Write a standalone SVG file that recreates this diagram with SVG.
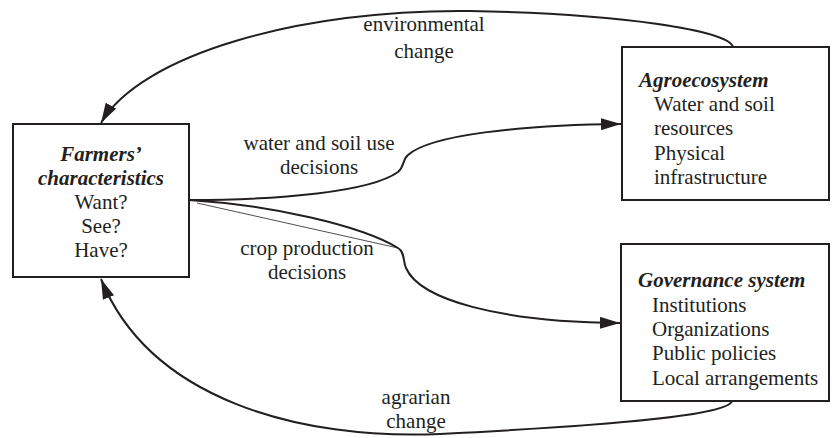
<svg xmlns="http://www.w3.org/2000/svg" width="832" height="438" viewBox="0 0 832 438">
<style>
text{font-size:21px;fill:#231f20}
.t{font-weight:bold;font-style:italic}
.box{fill:#fff;stroke:#231f20;stroke-width:2}
.c{fill:none;stroke:#231f20;stroke-width:2}
.lbl{text-anchor:middle}
</style>
<defs>
<marker id="ah" viewBox="0 0 20 12" refX="20" refY="6" markerWidth="20" markerHeight="12" markerUnits="userSpaceOnUse" orient="auto">
<path d="M0,0 L20,6 L0,12 z" fill="#231f20"/>
</marker>
</defs>
<rect width="832" height="438" fill="#fff"/>
<g font-family="Liberation Serif, DejaVu Serif, serif">
<g id="connectors">
<path class="c" d="M733,47 C728,30 620,14 470,11 C300,9 140,55 101,123" marker-end="url(#ah)"/>
<path class="c" d="M189,200 C280,200 370,192 398,172 C405,166 402,160 408,155 C430,135 520,125 621,124" marker-end="url(#ah)"/>
<path class="c" d="M189,200 C270,205 360,225 398,248 C405,252 403,262 406,268 C420,300 500,322 620,323" marker-end="url(#ah)"/>
<path fill="none" stroke="#231f20" stroke-width="0.8" d="M197,203 L398,248"/>
<path class="c" d="M732,401 C728,415 620,425 440,434 C300,440 150,400 101,279" marker-end="url(#ah)"/>
<text class="lbl" x="424" y="31">environmental</text>
<text class="lbl" x="424" y="58">change</text>
<text class="lbl" x="319" y="150">water and soil use</text>
<text class="lbl" x="319" y="174">decisions</text>
<text class="lbl" x="307" y="255">crop production</text>
<text class="lbl" x="307" y="279">decisions</text>
<text class="lbl" x="416" y="404">agrarian</text>
<text class="lbl" x="416" y="428">change</text>
</g>
<g id="farmers">
<rect class="box" x="13" y="124" width="176" height="153"/>
<text class="t lbl" x="101" y="161">Farmers’</text>
<text class="t lbl" x="101" y="185">characteristics</text>
<text class="lbl" x="101" y="209">Want?</text>
<text class="lbl" x="101" y="233">See?</text>
<text class="lbl" x="101" y="257">Have?</text>
</g>
<g id="agroecosystem">
<rect class="box" x="622" y="47" width="207" height="153"/>
<text class="t" x="639" y="87">Agroecosystem</text>
<text x="654" y="111">Water and soil</text>
<text x="654" y="135">resources</text>
<text x="654" y="160">Physical</text>
<text x="654" y="184">infrastructure</text>
</g>
<g id="governance">
<rect class="box" x="621" y="244" width="208" height="157"/>
<text class="t" x="638" y="287">Governance system</text>
<text x="652" y="312">Institutions</text>
<text x="652" y="336">Organizations</text>
<text x="652" y="360">Public policies</text>
<text x="652" y="385">Local arrangements</text>
</g>
</g>
</svg>
